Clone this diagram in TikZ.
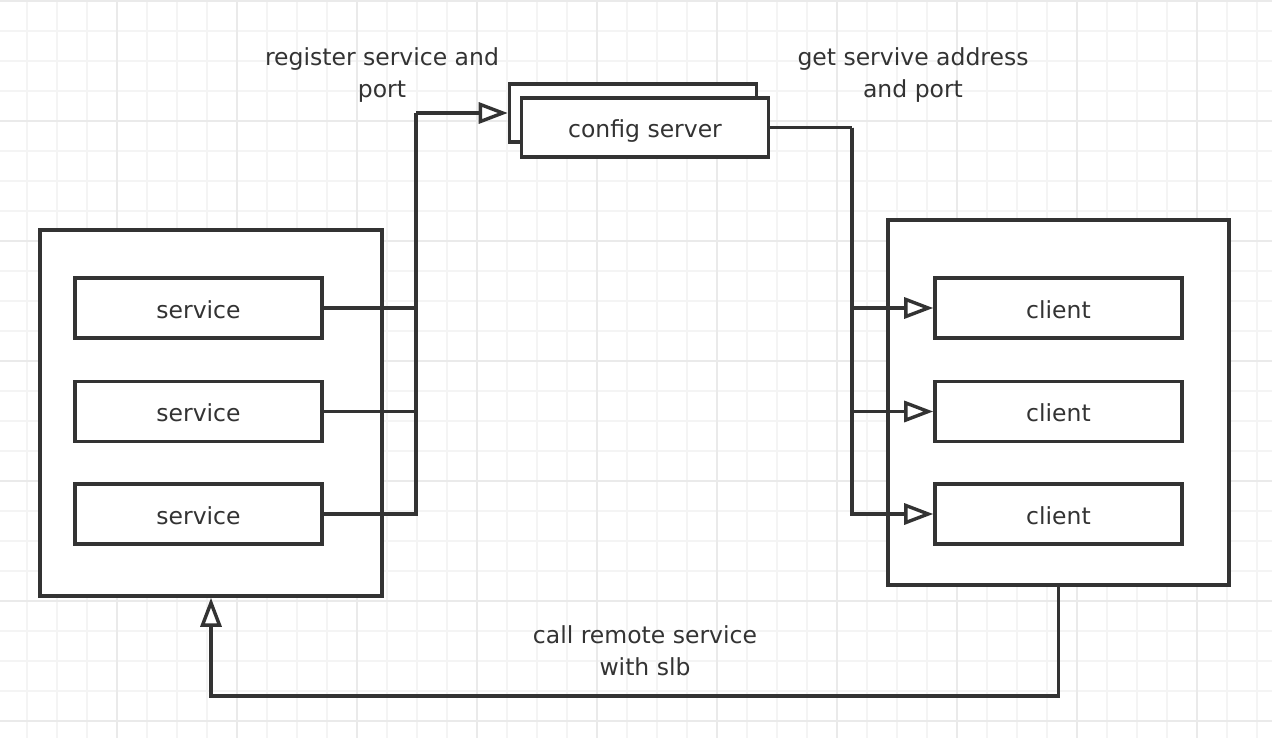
\documentclass[tikz,border=0pt]{standalone}
\usepackage{fontspec}
\setmainfont{DejaVu Sans}
\usetikzlibrary{arrows.meta}
\definecolor{ink}{HTML}{333333}
\definecolor{gridmin}{HTML}{F4F4F4}
\definecolor{gridmaj}{HTML}{EAEAEA}
\tikzset{
  box/.style={draw=ink, line width=1.8pt, fill=white, inner sep=0pt, text=ink,
    text height=10pt, text depth=0pt},
  smallbox/.style={box, minimum width=123.5pt, minimum height=30pt},
  bigbox/.style={box, minimum width=171pt, minimum height=183pt},
  link/.style={draw=ink, line width=1.9pt},
  flow/.style={link, -{Triangle[fill=white, length=14.5pt, width=10.5pt, line width=1.7pt]}},
  lbl/.style={align=center, text=ink, inner sep=0pt, yshift=-1pt},
  gridminor/.style={draw=gridmin, line width=1pt},
  gridmajor/.style={draw=gridmaj, line width=1pt}
}
\begin{document}
\begin{tikzpicture}[x=0.5pt, y=-0.5pt, font=\fontsize{11.75}{16}\selectfont]
      % Fundo com malha
      \fill[white] (0,0) rectangle (1272,738);
      \useasboundingbox (0,0) rectangle (1272,738);
      \foreach \x in {27,57,...,1257} \draw[gridminor] (\x,0) -- (\x,738);
      \foreach \y in {1,31,...,721}   \draw[gridminor] (0,\y) -- (1272,\y);
      \foreach \x in {117,237,...,1197} \draw[gridmajor] (\x,0) -- (\x,738);
      \foreach \y in {1,121,...,721}    \draw[gridmajor] (0,\y) -- (1272,\y);

      % Caixas externas
      \node[bigbox] (leftbox)  at (211,413) {};
      \node[bigbox, minimum width=170.5pt, minimum height=182.5pt] (rightbox) at (1058.5,402.5) {};

      % Servicos e clientes
      \node[smallbox] (svc1) at (198.5,308)   {service};
      \node[smallbox] (svc2) at (198.5,411.5) {service};
      \node[smallbox] (svc3) at (198.5,514)   {service};

      \node[smallbox] (cli1) at (1058.5,308)   {client};
      \node[smallbox] (cli2) at (1058.5,411.5) {client};
      \node[smallbox] (cli3) at (1058.5,514)   {client};

      % Config server (pilha)
      \node[smallbox, minimum height=29pt] (cfgback) at (633,113) {};
      \node[smallbox, minimum height=29.5pt] (cfg) at (645,127.5) {config server};

      % Ligacoes
      \coordinate (busL) at (416,113);
      \coordinate (busR) at (852,127.5);
      \coordinate (bottomL) at (211,696);

      \foreach \i in {1,2,3} \draw[link] (svc\i.east) -| (busL);
      \draw[flow] (busL) -- (cfgback.west);

      \draw[link] (cfg.east) -- (busR);
      \foreach \i in {1,2,3} \draw[flow] (busR) |- (cli\i.west);

      \draw[flow] (rightbox.south) |- (bottomL) -- (leftbox.south);

      % Rotulos
      \node[lbl] (lblreg)  at (382,73)  {register service and\\port};
      \node[lbl] (lblget)  at (913,73)  {get servive address\\and port};
      \node[lbl] (lblcall) at (645,649) {call remote service\\with slb};

    \end{tikzpicture}
\end{document}
